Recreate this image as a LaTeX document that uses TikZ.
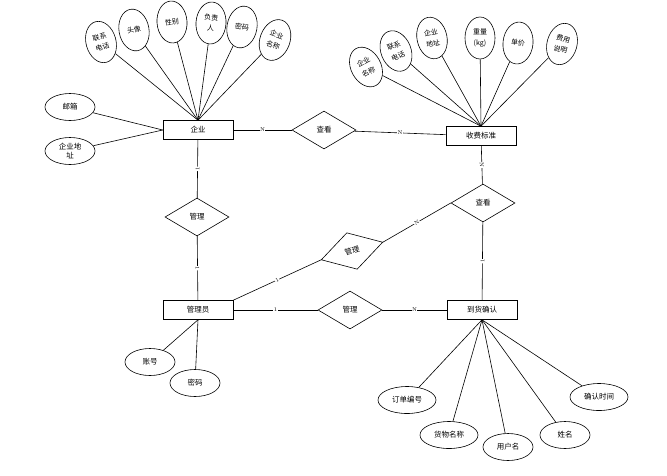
\documentclass[tikz,border=0pt]{standalone}
\usepackage{fontspec}
\newfontfamily\cjk{Noto Sans CJK SC}
\usetikzlibrary{shapes.geometric}
\tikzset{entity/.style = {draw, rectangle, minimum width=70pt, minimum height=19pt, inner sep=0pt, font=\cjk\fontsize{7.5}{8}\selectfont},
         attr/.style = {draw, ellipse, minimum width=30pt, minimum height=42pt, inner sep=0pt, align=center, font=\cjk\fontsize{7}{11}\selectfont},
         wattr/.style = {draw, ellipse, minimum width=50pt, minimum height=27pt, inner sep=0pt, font=\cjk\fontsize{7.5}{9}\selectfont},
         rel/.style = {draw, diamond, minimum width=64pt, minimum height=38pt, inner sep=0pt, font=\cjk\fontsize{7.5}{8}\selectfont},
         card/.style = {midway, fill=white, inner sep=0.5pt, font=\fontsize{5.5}{6}\selectfont}}

\begin{document}
\begin{tikzpicture}[x=1pt, y=-1pt, line width=0.6pt]
\useasboundingbox (0,0) rectangle (667,475);
% entities and relations
\node[entity] (qy) at (198,130) {企业};
\node[entity] (sf) at (481,136) {收费标准};
\node[entity] (gly) at (198,310) {管理员};
\node[entity] (dh) at (482,310) {到货确认};
\node[rel] (ck1) at (324,130) {查看};
\node[rel] (gl1) at (197,217) {管理};
\node[rel] (gl2) at (350,310) {管理};
\node[rel] (ck2) at (483,203) {查看};
\node[rel, rotate=16] (gl3) at (352,251) {管理};
% attributes of qy
\foreach \n/\x/\y/\a/\t in {qa/101/42/15/{联系\\电话}, qb/134/30/10/{头像}, qc/172/22/4/{性别},
                            qd/211/23/-4/{负责\\人}, qe/242/27/-10/{密码}, qf/275/40/-20/{企业\\名称}}
  {\node[attr, rotate=\a] (\n) at (\x,\y) {\t};
   \draw (\n) -- (qy.north);}
\node[wattr] (qg) at (70,107) {邮箱};
\node[wattr, align=center] (qh) at (70,151) {企业地\\址};
\draw (qg) -- (qy.west);
\draw (qh) -- (qy.west);
% attributes of sf
\foreach \n/\x/\y/\a/\t in {sa/366/67/28/{企业\\名称}, sb/396/51/22/{联系\\电话}, sc/432/38/12/{企业\\地址},
                            sd/480/38/0/{重量\\(kg)}, se/518/43/-6/{单价}, sg/562/44/-15/{费用\\说明}}
  {\node[attr, rotate=\a] (\n) at (\x,\y) {\t};
   \draw (\n) -- (sf.north);}
% attributes of gly
\node[wattr] (ga) at (150,362) {账号};
\node[wattr] (gb) at (195,383) {密码};
\draw (ga) -- (gly.south);
\draw (gb) -- (gly.south);
% attributes of dh
\foreach \n/\x/\y/\w/\t in {da/407/400/58/{订单编号}, db/449/435/58/{货物名称}, dc/508/447/50/{用户名},
                            dd/565/435/50/{姓名}, de/599/397/58/{确认时间}}
  {\node[wattr, minimum width=\w pt] (\n) at (\x,\y) {\t};
   \draw (\n) -- (dh.south);}
% relationships
\draw (qy) -- (ck1) node[card] {N};
\draw (ck1) -- (sf) node[card] {N};
\draw (qy) -- (gl1) node[card, sloped] {1};
\draw (gl1) -- (gly) node[card, sloped] {1};
\draw (gly) -- (gl2) node[card] {1};
\draw (gl2) -- (dh) node[card] {N};
\draw (sf) -- (ck2) node[card, sloped] {N};
\draw (ck2) -- (dh) node[card, sloped] {1};
\draw (gly.north east) -- (gl3.west) node[card, sloped] {1};
\draw (gl3.east) -- (ck2.west) node[card, sloped] {N};
\end{tikzpicture}
\end{document}
